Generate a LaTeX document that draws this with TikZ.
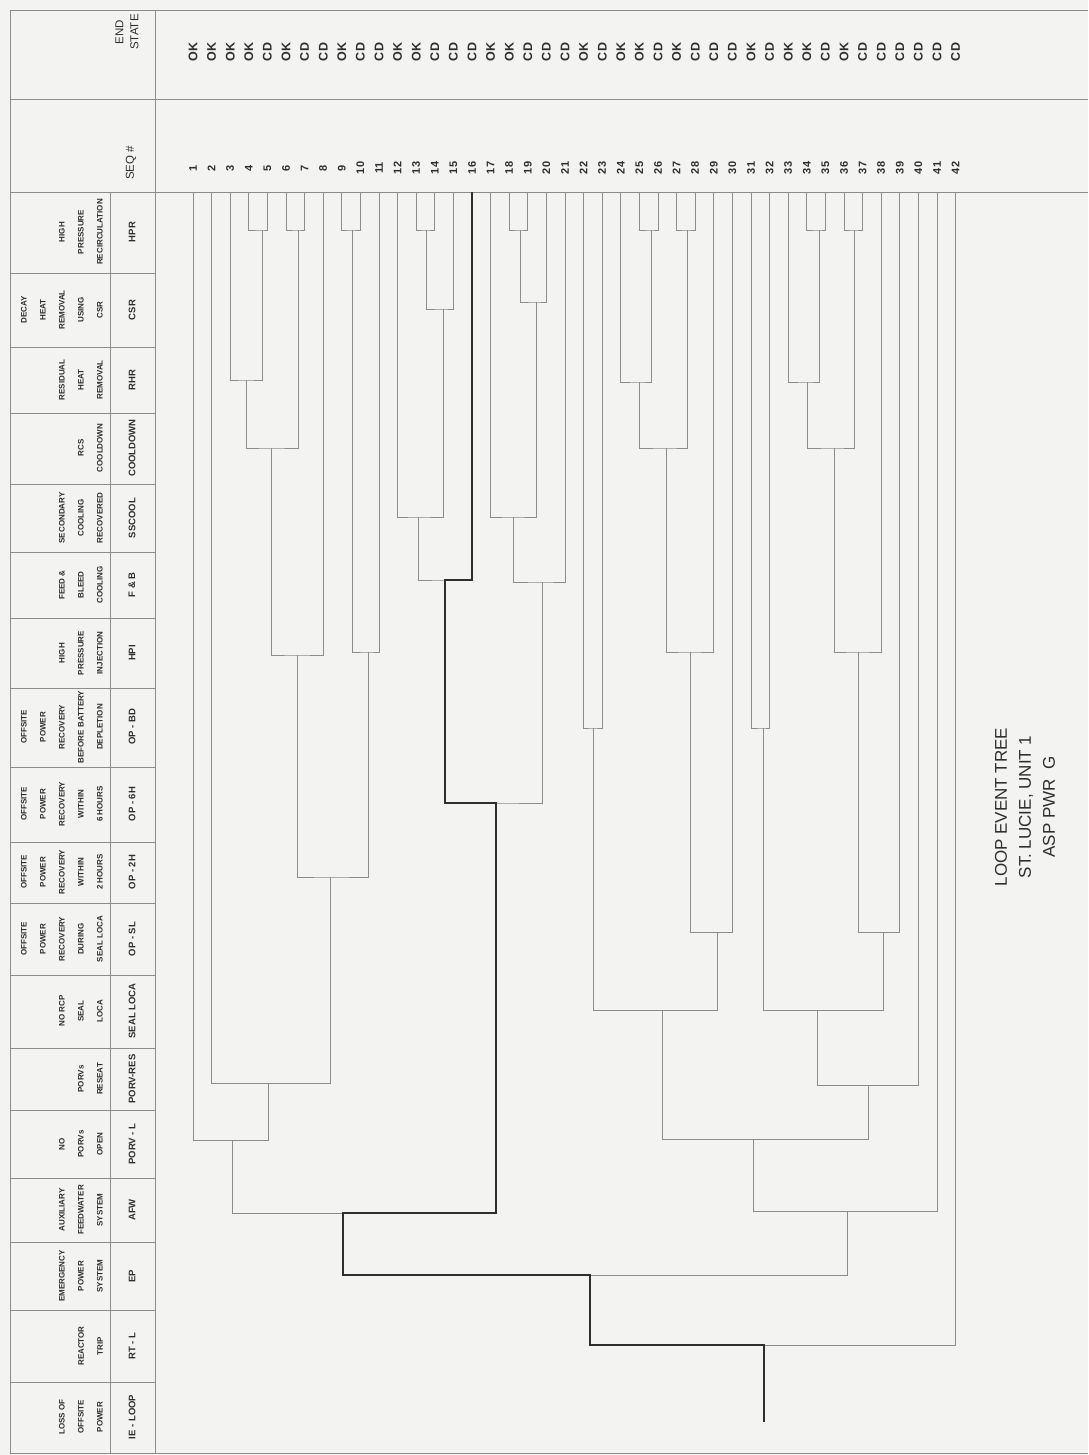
\documentclass[tikz,border=0pt]{standalone}
\usepackage{fontspec}
\setmainfont{Liberation Sans}
\definecolor{paper}{HTML}{F3F3F2}
\definecolor{ink}{HTML}{2E2E2E}
\definecolor{rule}{HTML}{8C8C8C}
\tikzset{
  cellline/.style={draw=rule, line width=0.7pt},
  branch/.style={draw=rule, line width=0.8pt},
  hilite/.style={draw=ink, line width=2.4pt},
  desc/.style={rotate=90, anchor=south, align=center, inner sep=0pt, text=ink,
    font=\fontsize{8}{19}\selectfont\bfseries},
  evname/.style={rotate=90, inner sep=0pt, text=ink, font=\fontsize{9.5}{10}\selectfont\bfseries},
  endst/.style={rotate=90, inner sep=0pt, text=ink, font=\fontsize{12.5}{13}\selectfont\bfseries},
  seqno/.style={rotate=90, inner sep=0pt, text=ink, font=\fontsize{11}{12}\selectfont\bfseries},
  headtxt/.style={rotate=90, align=center, inner sep=0pt, text=ink, font=\fontsize{11.5}{15}\selectfont},
  ttltxt/.style={rotate=90, align=center, inner sep=0pt, text=ink, font=\fontsize{17}{24}\selectfont},
}
\begin{document}
\begin{tikzpicture}[x=1pt, y=-1pt]
    \useasboundingbox (0,0) rectangle (1088,1455);
    \fill [paper] (0,0) rectangle (1088,1455);
    % header table
    \draw [cellline] (10,10) -- (1088,10);
    \draw [cellline] (10,99) -- (1088,99);
    \draw [cellline] (10,192) -- (1088,192);
    \draw [cellline] (10,1453) -- (1088,1453);
    \draw [cellline] (10,10) -- (10,1453);
    \draw [cellline] (155,10) -- (155,1453);
    \draw [cellline] (110,192) -- (110,1453);
    \foreach \yb in {273,347,413,484,552,618,688,767,842,903,975,1048,1110,1178,1242,1310,1382}
        \draw [cellline] (10,\yb) -- (155,\yb);
    \node [headtxt] (endhead) at (127,32) {END\\STATE};
    \node [headtxt] (seqhead) at (131,163) {SEQ \#};
    \foreach \yc/\d/\s [count=\k] in {
        232/{HIGH\\PRESSURE\\RECIRCULATION}/HPR,
        310/{DECAY\\HEAT\\REMOVAL\\USING\\CSR}/CSR,
        380/{RESIDUAL\\HEAT\\REMOVAL}/RHR,
        448/{RCS\\COOLDOWN}/COOLDOWN,
        518/{SECONDARY\\COOLING\\RECOVERED}/SSCOOL,
        585/{FEED \&\\BLEED\\COOLING}/F \& B,
        653/{HIGH\\PRESSURE\\INJECTION}/HPI,
        727/{OFFSITE\\POWER\\RECOVERY\\BEFORE BATTERY\\DEPLETION}/OP - BD,
        804/{OFFSITE\\POWER\\RECOVERY\\WITHIN\\6 HOURS}/OP - 6H,
        872/{OFFSITE\\POWER\\RECOVERY\\WITHIN\\2 HOURS}/OP - 2H,
        939/{OFFSITE\\POWER\\RECOVERY\\DURING\\SEAL LOCA}/OP - SL,
        1011/{NO RCP\\SEAL\\LOCA}/SEAL LOCA,
        1079/{PORVs\\RESEAT}/PORV-RES,
        1144/{NO\\PORVs\\OPEN}/PORV - L,
        1210/{AUXILIARY\\FEEDWATER\\SYSTEM}/AFW,
        1276/{EMERGENCY\\POWER\\SYSTEM}/EP,
        1346/{REACTOR\\TRIP}/RT - L,
        1417/{LOSS OF\\OFFSITE\\POWER}/IE - LOOP}
    {
        \node [desc] (desc\k) at (103,\yc) {\d};
        \node [evname] (ev\k) at (132,\yc) {\s};
    }
    % sequence ends, labels
    \foreach \i in {1,...,42} {
        \coordinate (s\i) at ({193+18.6*(\i-1)},192);
        \node [seqno] (sq\i) at ({193+18.6*(\i-1)},168) {\i};
    }
    \foreach \e [count=\i] in {OK,OK,OK,OK,CD,OK,CD,CD,OK,CD,CD,OK,OK,CD,CD,CD,OK,OK,CD,CD,CD,
        OK,CD,OK,OK,CD,OK,CD,CD,CD,OK,CD,OK,OK,CD,OK,CD,CD,CD,CD,CD,CD}
        \node [endst] (es\i) at ({193+18.6*(\i-1)},52) {\e};
    % branch points
    \foreach \n/\x/\y in {ie/764/1422, rt/764/1345, ep1/590/1275, afw1/343/1213, afw2/847/1211,
        pl1/232/1140, pr1/268/1083, o2a/330/877, hpa/297/655, hpb/368/652, cla/271/448,
        rha/246/380, hra/298/230, hrb/262/230, hrc/352/230, op6a/496/803, fba/445/580,
        fbb/542/582, ssa/418/517, ssb/513/517, csa/443/309, csb/536/302, hrd/426/230,
        hre/520/230, pl2/753/1139, sla/662/1010, pr2/868/1085, bda/593/728, osa/717/932,
        hpc/690/652, clb/666/448, rhb/639/382, hrf/687/230, hrg/651/230, slb/817/1010,
        bdb/763/728, osb/883/932, hpd/858/652, clc/834/448, rhc/807/382, hrh/854/230,
        hri/819/230}
        \coordinate (\n) at (\x,\y);
    \draw [branch] (ie) -- (rt);
    \foreach \p/\l/\r in {rt/ep1/s42, ep1/afw1/afw2, afw1/pl1/op6a, pl1/s1/pr1, pr1/s2/o2a,
        o2a/hpa/hpb, hpa/cla/s8, cla/rha/hra, rha/s3/hrb, hrb/s4/s5, hra/s6/s7, hpb/hrc/s11,
        hrc/s9/s10, op6a/fba/fbb, fba/ssa/s16, ssa/s12/csa, csa/hrd/s15, hrd/s13/s14,
        fbb/ssb/s21, ssb/s17/csb, csb/hre/s20, hre/s18/s19, afw2/pl2/s41, pl2/sla/pr2,
        sla/bda/osa, bda/s22/s23, osa/hpc/s30, hpc/clb/s29, clb/rhb/hrf, rhb/s24/hrg,
        hrg/s25/s26, hrf/s27/s28, pr2/slb/s40, slb/bdb/osb, bdb/s31/s32, osb/hpd/s39,
        hpd/clc/s38, clc/rhc/hrh, rhc/s33/hri, hri/s34/s35, hrh/s36/s37}
        \draw [branch] (\l) |- (\p) -| (\r);
    \draw [hilite] (ie) -- (rt) -| (ep1) -| (afw1) -| (op6a) -| (fba) -| (s16);
    \node [ttltxt] (ttl) at (1025,807) {LOOP EVENT TREE\\ST. LUCIE, UNIT 1\\ASP PWR\ \ G};
\end{tikzpicture}
\end{document}
